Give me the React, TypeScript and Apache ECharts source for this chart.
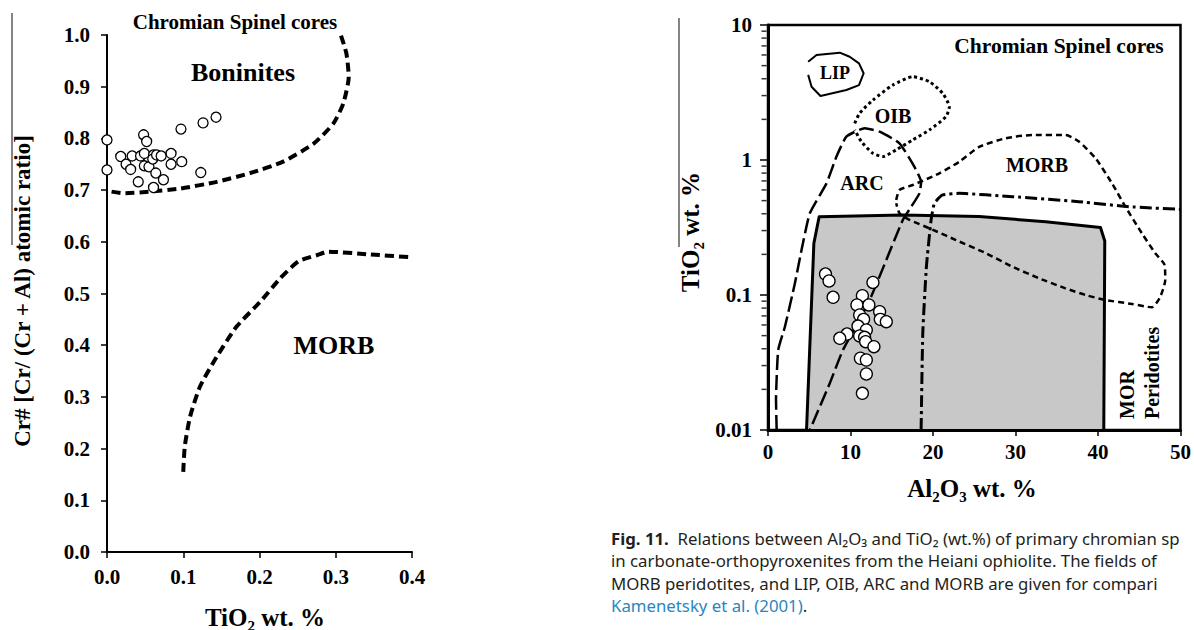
import { useEffect, useRef } from "react";
import * as echarts from "echarts";

const SERIF = "'Liberation Serif', 'DejaVu Serif', 'Times New Roman', serif";
const SANS = "'Noto Sans', 'Open Sans', sans-serif";

// ---------- Left panel: Cr# vs TiO2 ----------
const leftSpinelTiO2 = [0, 0, 0.018, 0.025, 0.031, 0.033, 0.041, 0.044, 0.048, 0.052, 0.049, 0.049, 0.055, 0.061, 0.06, 0.064, 0.061, 0.065, 0.071, 0.074, 0.084, 0.084, 0.098, 0.097, 0.123, 0.126, 0.143];
const leftSpinelCrNo = [0.797, 0.739, 0.765, 0.75, 0.74, 0.766, 0.716, 0.766, 0.807, 0.794, 0.771, 0.747, 0.745, 0.768, 0.76, 0.733, 0.705, 0.768, 0.766, 0.72, 0.771, 0.75, 0.755, 0.818, 0.734, 0.83, 0.841];

const boniniteLimitTiO2 = [0.006, 0.021, 0.056, 0.096, 0.144, 0.188, 0.231, 0.271, 0.297, 0.31, 0.317, 0.314, 0.306];
const boniniteLimitCrNo = [0.697, 0.694, 0.697, 0.703, 0.716, 0.733, 0.755, 0.79, 0.829, 0.868, 0.919, 0.964, 1.003];

const morbLimitTiO2 = [0.1, 0.102, 0.109, 0.122, 0.144, 0.17, 0.201, 0.227, 0.251, 0.275, 0.29, 0.341, 0.4];
const morbLimitCrNo = [0.155, 0.204, 0.262, 0.32, 0.378, 0.436, 0.484, 0.529, 0.562, 0.574, 0.581, 0.576, 0.57];

// ---------- Right panel: TiO2 (log) vs Al2O3 ----------
const rightSpinelAl2O3 = [6.97, 7.4, 7.89, 12.72, 11.44, 10.78, 12.23, 11.11, 13.53, 13.61, 14.34, 11.59, 10.91, 11.92, 9.58, 8.7, 11.11, 11.71, 11.84, 12.84, 11.2, 11.92, 11.92, 11.44];
const rightSpinelTiO2 = [0.143, 0.127, 0.0962, 0.124, 0.0989, 0.0844, 0.0844, 0.0711, 0.0752, 0.066, 0.0634, 0.066, 0.0589, 0.0551, 0.0514, 0.0478, 0.0497, 0.0486, 0.0451, 0.0414, 0.034, 0.033, 0.026, 0.0187];

const lipAl2O3 = [4.87, 5.88, 8.7, 9.9, 11.03, 11.59, 11.03, 9.5, 6.36, 5.28, 4.87];
const lipTiO2 = [5.35, 6.0, 6.24, 5.82, 5.2, 4.39, 3.59, 3.3, 2.98, 3.49, 4.27];

const oibAl2O3 = [10.51, 11.11, 12.72, 15.13, 17.55, 19.57, 21.17, 21.98, 21.58, 19.57, 17.55, 15.54, 13.93, 12.72, 11.32, 10.51];
const oibTiO2 = [1.87, 2.22, 2.78, 3.59, 4.14, 3.8, 3.12, 2.48, 2.1, 1.67, 1.41, 1.19, 1.06, 1.12, 1.37, 1.67];

const arcAl2O3 = [1.05, 0.97, 1.24, 2.05, 3.26, 4.07, 5.07, 7.09, 8.3, 9.5, 11.71, 13.53, 15.94, 17.75, 18.56, 18.36, 17.36, 16.34, 12.32, 9.09, 7.49, 5.07];
const arcTiO2 = [0.01, 0.0167, 0.0392, 0.0582, 0.122, 0.216, 0.403, 0.671, 1.06, 1.49, 1.72, 1.62, 1.33, 0.89, 0.69, 0.566, 0.451, 0.36, 0.0918, 0.0392, 0.0222, 0.01];

const morbAl2O3 = [15.54, 15.94, 17.55, 20.77, 23.19, 25.6, 28.83, 32.04, 36.07, 37.68, 39.7, 41.7, 43.32, 45.33, 46.94, 48.07, 48.15, 47.55, 46.53, 44.12, 40.91, 38.49, 36.07, 32.85, 29.63, 26.41, 22.79, 19.57, 17.15, 15.94, 15.54];
const morbTiO2 = [0.506, 0.6, 0.653, 0.797, 0.971, 1.25, 1.45, 1.53, 1.53, 1.37, 1.03, 0.671, 0.451, 0.286, 0.204, 0.167, 0.129, 0.0971, 0.081, 0.0858, 0.0918, 0.1, 0.112, 0.133, 0.162, 0.204, 0.255, 0.312, 0.36, 0.403, 0.478];

const morPeridAl2O3 = [18.56, 18.76, 19.2, 19.77, 20.17, 21.17, 23.19, 29.63, 37.68, 43.72, 49.96];
const morPeridTiO2 = [0.01, 0.052, 0.162, 0.36, 0.478, 0.551, 0.566, 0.535, 0.491, 0.451, 0.431];

const sszAl2O3 = [4.67, 5.56, 6.2, 16.34, 25.6, 33.66, 40.3, 40.82, 40.7];
const sszTiO2 = [0.01, 0.242, 0.38, 0.392, 0.381, 0.349, 0.316, 0.251, 0.01];

const logMinorTicks = [0.02, 0.03, 0.04, 0.05, 0.06, 0.07, 0.08, 0.09, 0.2, 0.3, 0.4, 0.5, 0.6, 0.7, 0.8, 0.9, 2, 3, 4, 5, 6, 7, 8, 9];

const captionLines = [
  "{b|Fig. 11.}  Relations between Al₂O₃ and TiO₂ (wt.%) of primary chromian sp",
  "in carbonate-orthopyroxenites from the Heiani ophiolite. The fields of",
  "MORB peridotites, and LIP, OIB, ARC and MORB are given for compari",
  "{l|Kamenetsky et al. (2001)}.",
];

const zip = (xs: number[], ys: number[]) => xs.map((x, i) => [x, ys[i]]);

export default function App() {
  const ref = useRef<HTMLDivElement>(null);
  useEffect(() => {
    const chart = echarts.init(ref.current!, null, { renderer: "svg" });

    const tickFont = { fontFamily: SERIF, fontWeight: "bold", fontSize: 21, color: "#000" };
    const txt = (x: number, y: number, s: string, size: number, extra: any = {}, align = "center") => ({
      type: "text",
      x,
      y,
      ...extra,
      style: {
        text: s,
        fontFamily: SERIF,
        fontWeight: "bold",
        fontSize: size,
        fill: "#000",
        textAlign: align,
        align,
        textVerticalAlign: "middle",
        verticalAlign: "middle",
      },
    });
    const lineSeries = (x: number, y: number, data: number[][], width: number, type: any, smooth: number | boolean = false) => ({
      type: "line",
      xAxisIndex: x,
      yAxisIndex: y,
      data,
      symbol: "none",
      showSymbol: false,
      smooth,
      clip: false,
      silent: true,
      lineStyle: { color: "#000", width, type, cap: "butt", join: "round" },
      z: 3,
    });

    const capSize = 16.8;
    const option: any = {
      animation: false,
      backgroundColor: "#fff",
      grid: [
        { left: 107, top: 35, width: 305, height: 517, show: false },
        { left: 768, top: 25, width: 414, height: 405, show: true, borderColor: "#000", borderWidth: 2.5, backgroundColor: "transparent" },
      ],
      xAxis: [
        {
          gridIndex: 0,
          type: "value",
          min: 0,
          max: 0.4,
          interval: 0.1,
          axisLine: { show: true, lineStyle: { color: "#000", width: 2 } },
          axisTick: { show: true, inside: false, length: 6, lineStyle: { color: "#000", width: 1.5 } },
          axisLabel: { ...tickFont, margin: 14, formatter: (v: number) => v.toFixed(1) },
          splitLine: { show: false },
        },
        {
          gridIndex: 1,
          type: "value",
          min: 0,
          max: 50,
          interval: 10,
          z: 10,
          axisLine: { show: true, lineStyle: { color: "#000", width: 3 } },
          axisTick: { show: true, inside: false, length: 6, lineStyle: { color: "#000", width: 1.5 } },
          axisLabel: { ...tickFont, margin: 11, formatter: (v: number) => String(v) },
          splitLine: { show: false },
        },
      ],
      yAxis: [
        {
          gridIndex: 0,
          type: "value",
          min: 0,
          max: 1,
          interval: 0.1,
          axisLine: { show: true, lineStyle: { color: "#000", width: 2 } },
          axisTick: { show: true, inside: false, length: 6, lineStyle: { color: "#000", width: 1.5 } },
          axisLabel: { ...tickFont, margin: 17, formatter: (v: number) => v.toFixed(1) },
          splitLine: { show: false },
        },
        {
          gridIndex: 1,
          type: "log",
          logBase: 10,
          min: 0.01,
          max: 10,
          z: 10,
          axisLine: { show: true, lineStyle: { color: "#000", width: 3 } },
          axisTick: { show: true, inside: false, length: 8, lineStyle: { color: "#000", width: 1.5 } },
          axisLabel: { ...tickFont, margin: 16, formatter: (v: number) => String(+v.toPrecision(2)) },
          splitLine: { show: false },
        },
      ],
      series: [
        // left panel
        lineSeries(0, 0, zip(boniniteLimitTiO2, boniniteLimitCrNo), 4, [9, 5], 0.2),
        lineSeries(0, 0, zip(morbLimitTiO2, morbLimitCrNo), 4, [9, 5], 0.2),
        {
          type: "scatter",
          xAxisIndex: 0,
          yAxisIndex: 0,
          data: zip(leftSpinelTiO2, leftSpinelCrNo),
          symbol: "circle",
          symbolSize: 10,
          clip: false,
          silent: true,
          itemStyle: { color: "#fff", borderColor: "#000", borderWidth: 1.3, opacity: 1 },
          z: 5,
        },
        // right panel
        {
          ...lineSeries(1, 1, zip(sszAl2O3, sszTiO2), 3, "solid"),
          areaStyle: { color: "#c8c8c8", opacity: 1, origin: "start" },
          z: 1,
        },
        lineSeries(1, 1, zip(morbAl2O3, morbTiO2), 2.5, [6, 4], 0.2),
        lineSeries(1, 1, zip(oibAl2O3, oibTiO2), 3, [3, 3], 0.2),
        lineSeries(1, 1, zip(lipAl2O3, lipTiO2), 2, "solid"),
        lineSeries(1, 1, zip(arcAl2O3, arcTiO2), 2.5, [15, 5], 0.15),
        lineSeries(1, 1, zip(morPeridAl2O3, morPeridTiO2), 3, [12, 4, 3, 4], 0.15),
        {
          type: "scatter",
          xAxisIndex: 1,
          yAxisIndex: 1,
          data: zip(rightSpinelAl2O3, rightSpinelTiO2),
          symbol: "circle",
          symbolSize: 12,
          clip: false,
          silent: true,
          itemStyle: { color: "#fff", borderColor: "#000", borderWidth: 1.3, opacity: 1 },
          z: 5,
        },
        {
          type: "scatter",
          xAxisIndex: 1,
          yAxisIndex: 1,
          data: logMinorTicks.map((v) => [0, v]),
          symbol: "rect",
          symbolSize: [5, 1.5],
          symbolOffset: [-4, 0],
          clip: false,
          silent: true,
          itemStyle: { color: "#000" },
          z: 6,
        },
      ],
      graphic: [
        // left panel texts
        txt(235, 22, "Chromian Spinel cores", 21),
        txt(243, 72, "Boninites", 26),
        txt(334, 345, "MORB", 26),
        txt(265, 617, "TiO₂ wt. %", 25),
        txt(22, 291, "Cr# [Cr/ (Cr + Al) atomic ratio]", 23, { rotation: Math.PI / 2 }),
        { type: "line", shape: { x1: 12, y1: 13, x2: 12, y2: 245 }, style: { stroke: "#333", lineWidth: 1.2 } },
        // right panel texts
        txt(1059, 46, "Chromian Spinel cores", 21.5),
        txt(835, 73, "LIP", 18),
        txt(893, 116, "OIB", 20),
        txt(862, 183, "ARC", 20),
        txt(1037, 165, "MORB", 20),
        txt(824, 232, "SSZ", 20, {}, "left"),
        txt(824, 254, "Peridotites", 20, {}, "left"),
        txt(1127, 419, "MOR", 20, { rotation: Math.PI / 2 }, "left"),
        txt(1152, 419, "Peridotites", 20, { rotation: Math.PI / 2 }, "left"),
        txt(972, 488, "Al₂O₃ wt. %", 25),
        txt(690, 232, "TiO₂ wt. %", 25, { rotation: Math.PI / 2 }),
        { type: "line", shape: { x1: 679, y1: 18, x2: 679, y2: 247 }, style: { stroke: "#333", lineWidth: 1.2 } },
        // caption
        ...captionLines.map((s, i) => ({
          type: "text",
          x: 611,
          y: 538 + i * 22.5,
          style: {
            text: s,
            fontFamily: SANS,
            fontSize: capSize,
            fill: "#231f20",
            textAlign: "left",
            align: "left",
            textVerticalAlign: "middle",
            verticalAlign: "middle",
            rich: {
              b: { fontFamily: SANS, fontSize: capSize, fontWeight: "bold", fill: "#231f20", color: "#231f20" },
              l: { fontFamily: SANS, fontSize: capSize, fill: "#2a86bf", color: "#2a86bf" },
            },
          },
        })),
      ],
    };
    chart.setOption(option);
    return () => chart.dispose();
  }, []);
  return <div ref={ref} style={{ position: "absolute", left: 0, top: 0, width: 1194, height: 630 }} />;
}
